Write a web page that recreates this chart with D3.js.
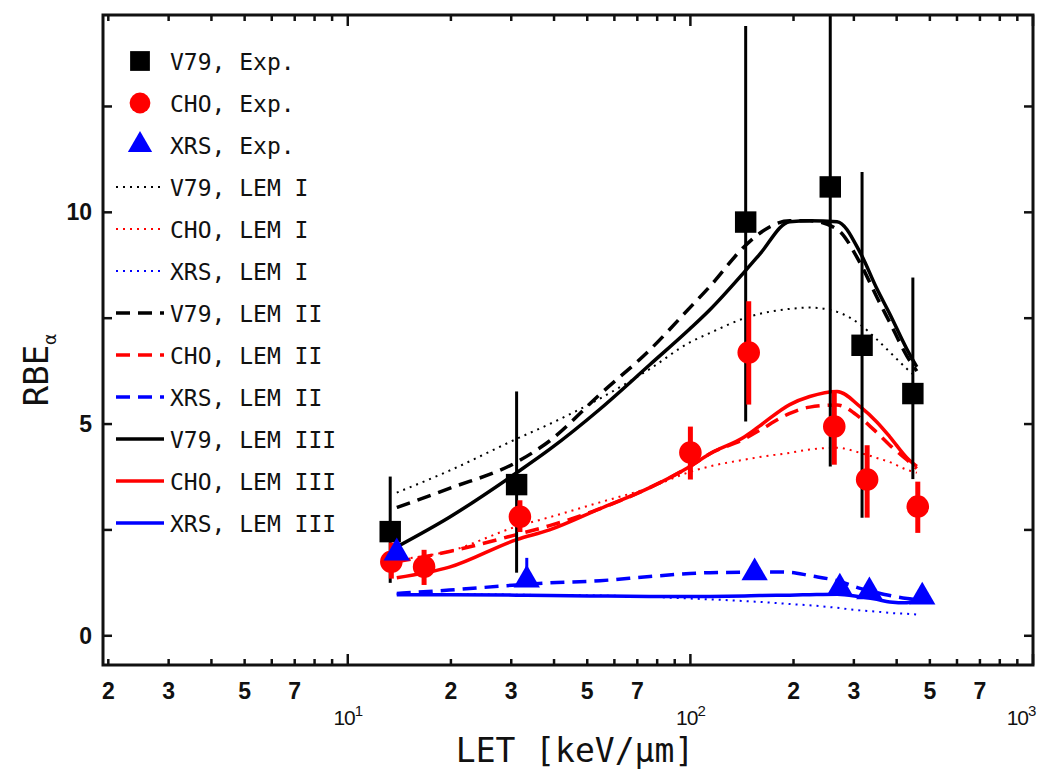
<!DOCTYPE html>
<html>
<head>
<meta charset="utf-8">
<script src="https://cdn.jsdelivr.net/npm/d3@7"></script>
<style>
  body { margin: 0; background: #fff; }
  text { font-family: "DejaVu Sans Mono", monospace; fill: #111; }
</style>
</head>
<body>
<div id="chart"></div>
<script>
// experimental points
const v79Let = [13.3, 31.1, 145, 256, 317, 446];
const v79Rbe = [2.46, 3.57, 9.77, 10.6, 6.86, 5.72];
const v79Lo = [1.25, 1.49, 5.06, 4.0, 2.79, 3.7];
const v79Hi = [3.76, 5.77, 14.4, 16.0, 10.95, 8.46];

const choLet = [13.4, 16.7, 31.8, 100, 148, 263, 328, 461];
const choRbe = [1.75, 1.63, 2.81, 4.33, 6.69, 4.94, 3.69, 3.05];
const choLo = [1.35, 1.2, 2.45, 3.69, 5.46, 4.04, 2.79, 2.43];
const choHi = [2.2, 2.03, 3.2, 4.94, 7.9, 5.74, 4.5, 3.64];

const xrsLet = [13.9, 33.3, 154, 273, 333, 475];
const xrsRbe = [1.96, 1.32, 1.49, 1.13, 1.04, 0.92];
const xrsLo = [1.8, 1.2, 1.35, 1.0, 0.95, 0.8];
const xrsHi = [2.12, 1.84, 1.7, 1.35, 1.3, 1.2];

// model curves, all on the same LET grid
const letGrid = [13.9, 19.8, 31.1, 38.8, 54.4, 76.1, 99.7, 114, 144, 159, 195, 223, 268, 313, 350, 382, 429, 458];
const v79Lem1 = [3.38, 3.9, 4.65, 5.0, 5.6, 6.3, 6.93, 7.15, 7.5, 7.6, 7.72, 7.75, 7.65, 7.35, 7.0, 6.7, 6.3, 6.1];
const v79Lem2 = [3.03, 3.48, 4.1, 4.6, 5.7, 6.75, 7.75, 8.25, 9.2, 9.5, 9.8, 9.8, 9.6, 8.8, 8.0, 7.4, 6.6, 6.25];
const v79Lem3 = [2.1, 2.8, 3.85, 4.4, 5.35, 6.4, 7.25, 7.7, 8.6, 9.0, 9.78, 9.8, 9.78, 9.05, 8.2, 7.6, 6.76, 6.35];
const choLem1 = [1.8, 2.0, 2.58, 2.8, 3.15, 3.5, 3.87, 4.0, 4.16, 4.22, 4.32, 4.4, 4.44, 4.32, 4.2, 4.1, 3.92, 3.85];
const choLem2 = [1.75, 1.99, 2.39, 2.6, 3.0, 3.5, 4.0, 4.3, 4.65, 4.85, 5.25, 5.4, 5.45, 5.15, 4.8, 4.5, 4.15, 3.95];
const choLem3 = [1.37, 1.62, 2.27, 2.5, 3.0, 3.5, 4.0, 4.3, 4.7, 4.95, 5.46, 5.65, 5.77, 5.41, 5.05, 4.7, 4.2, 4.0];
const xrsLem1 = [0.98, 0.98, 0.97, 0.96, 0.95, 0.92, 0.88, 0.86, 0.82, 0.8, 0.75, 0.72, 0.66, 0.6, 0.57, 0.54, 0.52, 0.5];
const xrsLem2 = [1.0, 1.08, 1.2, 1.25, 1.3, 1.4, 1.47, 1.49, 1.5, 1.51, 1.5, 1.42, 1.3, 1.12, 1.02, 0.95, 0.88, 0.85];
const xrsLem3 = [0.97, 0.97, 0.96, 0.95, 0.94, 0.93, 0.93, 0.93, 0.94, 0.95, 0.96, 0.97, 0.98, 0.92, 0.86, 0.8, 0.78, 0.83];

const yTicks = [0, 2.5, 5, 7.5, 10, 12.5];
const yLabels = [0, 5, 10];
const xLabelDigits = [2, 3, 5, 7];

const legendNames = ['V79, Exp.', 'CHO, Exp.', 'XRS, Exp.',
  'V79, LEM I', 'CHO, LEM I', 'XRS, LEM I',
  'V79, LEM II', 'CHO, LEM II', 'XRS, LEM II',
  'V79, LEM III', 'CHO, LEM III', 'XRS, LEM III'];

const width = 1043;
const height = 775;
const frame = { left: 103, right: 1033, top: 15, bottom: 665 };
const colors = { V79: '#000', CHO: '#ff0000', XRS: '#0000ff' };

const xScale = d3.scaleLog().domain([1.93, 1000]).range([frame.left, frame.right]);
const yScale = d3.scaleLinear().domain([-0.69, 14.66]).range([frame.bottom, frame.top]);

const svg = d3.select('#chart').append('svg')
  .attr('width', width)
  .attr('height', height);

svg.append('defs').append('clipPath').attr('id', 'clip')
  .append('rect')
  .attr('x', frame.left).attr('y', frame.top)
  .attr('width', frame.right - frame.left)
  .attr('height', frame.bottom - frame.top);

const plot = svg.append('g').attr('clip-path', 'url(#clip)');

// line styles
const styles = {
  I: { width: 2, dash: '2,5' },
  II: { width: 3.5, dash: '14,8' },
  III: { width: 3.5, dash: null }
};

const line = d3.line()
  .x(function(d, i) { return xScale(letGrid[i]); })
  .y(function(d) { return yScale(d); })
  .curve(d3.curveMonotoneX);

const curves = [
  ['V79', 'I', v79Lem1], ['CHO', 'I', choLem1], ['XRS', 'I', xrsLem1],
  ['V79', 'II', v79Lem2], ['CHO', 'II', choLem2], ['XRS', 'II', xrsLem2],
  ['V79', 'III', v79Lem3], ['CHO', 'III', choLem3], ['XRS', 'III', xrsLem3]
];
curves.forEach(function(c) {
  plot.append('path')
    .datum(c[2])
    .attr('d', line)
    .attr('fill', 'none')
    .attr('stroke', colors[c[0]])
    .attr('stroke-width', styles[c[1]].width)
    .attr('stroke-dasharray', styles[c[1]].dash);
});

// experimental points with error bars
function drawPoints(lets, rbe, lo, hi, color, barWidth, shape) {
  const g = plot.append('g');
  g.selectAll('line.err').data(lets).enter().append('line')
    .attr('x1', function(d) { return xScale(d); })
    .attr('x2', function(d) { return xScale(d); })
    .attr('y1', function(d, i) { return yScale(lo[i]); })
    .attr('y2', function(d, i) { return yScale(hi[i]); })
    .attr('stroke', color)
    .attr('stroke-width', barWidth);
  g.selectAll('path.pt').data(lets).enter().append('path')
    .attr('d', d3.symbol().type(shape.type).size(shape.size))
    .attr('transform', function(d, i) {
      return 'translate(' + xScale(d) + ',' + yScale(rbe[i]) + ')';
    })
    .attr('fill', color);
}
const square = { type: d3.symbolSquare, size: 460 };
const circle = { type: d3.symbolCircle, size: 400 };
const triangle = { type: d3.symbolTriangle, size: 300 };
drawPoints(v79Let, v79Rbe, v79Lo, v79Hi, colors.V79, 3, square);
drawPoints(choLet, choRbe, choLo, choHi, colors.CHO, 5, circle);
drawPoints(xrsLet, xrsRbe, xrsLo, xrsHi, colors.XRS, 3, triangle);

/*  frame and ticks  */
svg.append('rect')
  .attr('x', frame.left).attr('y', frame.top)
  .attr('width', frame.right - frame.left)
  .attr('height', frame.bottom - frame.top)
  .attr('fill', 'none')
  .attr('stroke', '#111')
  .attr('stroke-width', 3);

const xTickVals = [];
[1, 10, 100].forEach(function(dec) {
  for (let k = 1; k <= 9; k++) {
    const v = k * dec;
    if (v >= 1.93 && v <= 1000) xTickVals.push(v);
  }
});
xTickVals.push(1000);

const ticks = svg.append('g').attr('stroke', '#111').attr('stroke-width', 2.5);
xTickVals.forEach(function(v) {
  const major = Math.abs(Math.log10(v) - Math.round(Math.log10(v))) < 1e-9;
  const len = major ? 11 : 6;
  const x = xScale(v);
  ticks.append('line').attr('x1', x).attr('x2', x)
    .attr('y1', frame.bottom).attr('y2', frame.bottom - len);
  ticks.append('line').attr('x1', x).attr('x2', x)
    .attr('y1', frame.top).attr('y2', frame.top + len);
});
yTicks.forEach(function(v) {
  const y = yScale(v);
  ticks.append('line').attr('x1', frame.left).attr('x2', frame.left + 9)
    .attr('y1', y).attr('y2', y);
  ticks.append('line').attr('x1', frame.right).attr('x2', frame.right - 9)
    .attr('y1', y).attr('y2', y);
});

// tick labels
const labelFont = '"Liberation Sans", Arial, sans-serif';
yLabels.forEach(function(v) {
  svg.append('text')
    .attr('x', 92).attr('y', yScale(v) + 8)
    .attr('text-anchor', 'end')
    .style('font-family', labelFont)
    .style('font-weight', 'bold')
    .style('font-size', '23px')
    .text(v);
});
[1, 10, 100].forEach(function(dec) {
  xLabelDigits.forEach(function(k) {
    svg.append('text')
      .attr('x', xScale(k * dec)).attr('y', 699)
      .attr('text-anchor', 'middle')
      .style('font-family', labelFont)
      .style('font-weight', 'bold')
      .style('font-size', '23px')
      .text(k);
  });
});
[1, 2, 3].forEach(function(p) {
  const shift = p === 3 ? -12 : 0;
  const t = svg.append('text')
    .attr('x', xScale(Math.pow(10, p)) + shift).attr('y', 725)
    .attr('text-anchor', 'middle')
    .style('font-family', labelFont)
    .style('font-size', '21px')
    .style('letter-spacing', '-1px');
  t.append('tspan').text('10');
  t.append('tspan').attr('dy', -9).style('font-size', '15px').text(p);
});

// axis titles
svg.append('text')
  .attr('x', 575).attr('y', 762)
  .attr('text-anchor', 'middle')
  .style('font-size', '33px')
  .text('LET [keV/\u00b5m]');
const yt = svg.append('text')
  .attr('transform', 'translate(48,370) rotate(-90)')
  .attr('text-anchor', 'middle')
  .style('font-size', '34px');
yt.append('tspan').text('RBE');
yt.append('tspan').attr('dy', 8).style('font-size', '18px').text('\u03b1');

/*  legend  */
const legend = svg.append('g');
const legendSeries = ['V79', 'CHO', 'XRS'];
const legendShapes = [square, circle, triangle];
const legendLevels = ['I', 'II', 'III'];
legendNames.forEach(function(name, i) {
  const y = 61 + i * 42;
  const series = legendSeries[i % 3];
  if (i < 3) {
    legend.append('path')
      .attr('d', d3.symbol().type(legendShapes[i].type).size(legendShapes[i].size * 0.85))
      .attr('transform', 'translate(140,' + y + ')')
      .attr('fill', colors[series]);
  } else {
    const st = styles[legendLevels[Math.floor(i / 3) - 1]];
    legend.append('line')
      .attr('x1', 116).attr('x2', 164)
      .attr('y1', y).attr('y2', y)
      .attr('stroke', colors[series])
      .attr('stroke-width', st.width)
      .attr('stroke-dasharray', st.dash);
  }
  legend.append('text')
    .attr('x', 170).attr('y', y + 9)
    .style('font-size', '23px')
    .text(name);
});
</script>
</body>
</html>
